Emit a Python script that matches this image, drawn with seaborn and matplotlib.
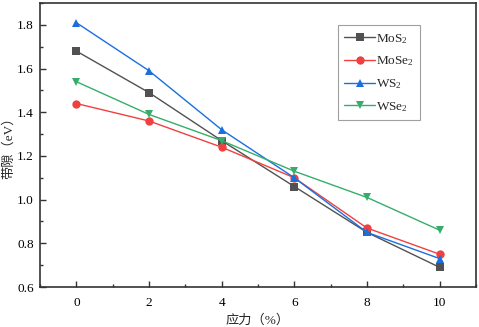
import matplotlib
matplotlib.use("Agg")
import matplotlib.pyplot as plt
from matplotlib.ticker import MultipleLocator
import seaborn as sns
import pandas as pd

strain = [0, 2, 4, 6, 8, 10]
mos2 = [1.68, 1.49, 1.27, 1.06, 0.85, 0.69]
mose2 = [1.44, 1.36, 1.24, 1.10, 0.87, 0.75]
ws2 = [1.81, 1.59, 1.32, 1.10, 0.85, 0.73]
wse2 = [1.54, 1.39, 1.27, 1.13, 1.01, 0.86]
names = ['MoS$_2$', 'MoSe$_2$', 'WS$_2$', 'WSe$_2$']
colors = ['#515151', '#F14040', '#1A6FDF', '#37AD6B']
markers = ['s', 'o', '^', 'v']

sns.set_style("ticks")
plt.rcParams['font.family'] = ['Liberation Serif', 'Noto Sans CJK SC']
plt.rcParams['mathtext.fontset'] = 'custom'
plt.rcParams['mathtext.rm'] = 'Liberation Serif'
plt.rcParams['mathtext.it'] = 'Liberation Serif:italic'

data_df = pd.DataFrame({
    'x': strain * 4,
    'y': mos2 + mose2 + ws2 + wse2,
    'label': [n for n in names for _ in strain]
})

fig = plt.figure(figsize=(4.79, 3.27), dpi=100)
ax = fig.add_axes([0.0835, 0.1223, 0.9102, 0.8685])
sns.lineplot(x='x', y='y', data=data_df, hue='label', style='label',
             palette=colors, markers=markers, dashes=False, markersize=6,
             markeredgewidth=0, linewidth=1, ax=ax)

ax.set_xlim(-1, 11)
ax.set_ylim(0.6, 1.9)
ax.xaxis.set_major_locator(MultipleLocator(2))
ax.xaxis.set_minor_locator(MultipleLocator(1))
ax.yaxis.set_major_locator(MultipleLocator(0.2))
ax.yaxis.set_minor_locator(MultipleLocator(0.1))
ax.tick_params(which='both', direction='in', labelsize=9.5, colors='#333333',
               labelcolor='black')
ax.tick_params(which='major', length=4, width=1)
ax.tick_params(which='minor', length=2, width=1)
ax.tick_params(axis='x', pad=7)
ax.tick_params(axis='y', pad=4.5)
for s in ax.spines.values():
    s.set_linewidth(1.2)
    s.set_color('#333333')

plt.xlabel("应力（%）", fontsize=9.5, labelpad=4)
plt.ylabel("带隙（eV）", fontsize=9.5, labelpad=1)

leg = ax.legend(loc='upper left', bbox_to_anchor=(0.683, 0.922), fontsize=9.5,
                frameon=True, fancybox=False, edgecolor='#888888',
                handlelength=2.3, labelspacing=0.68, borderpad=0.5,
                handletextpad=0.1, borderaxespad=0)
leg.get_frame().set_linewidth(0.8)

plt.savefig('out.png', dpi=100)
